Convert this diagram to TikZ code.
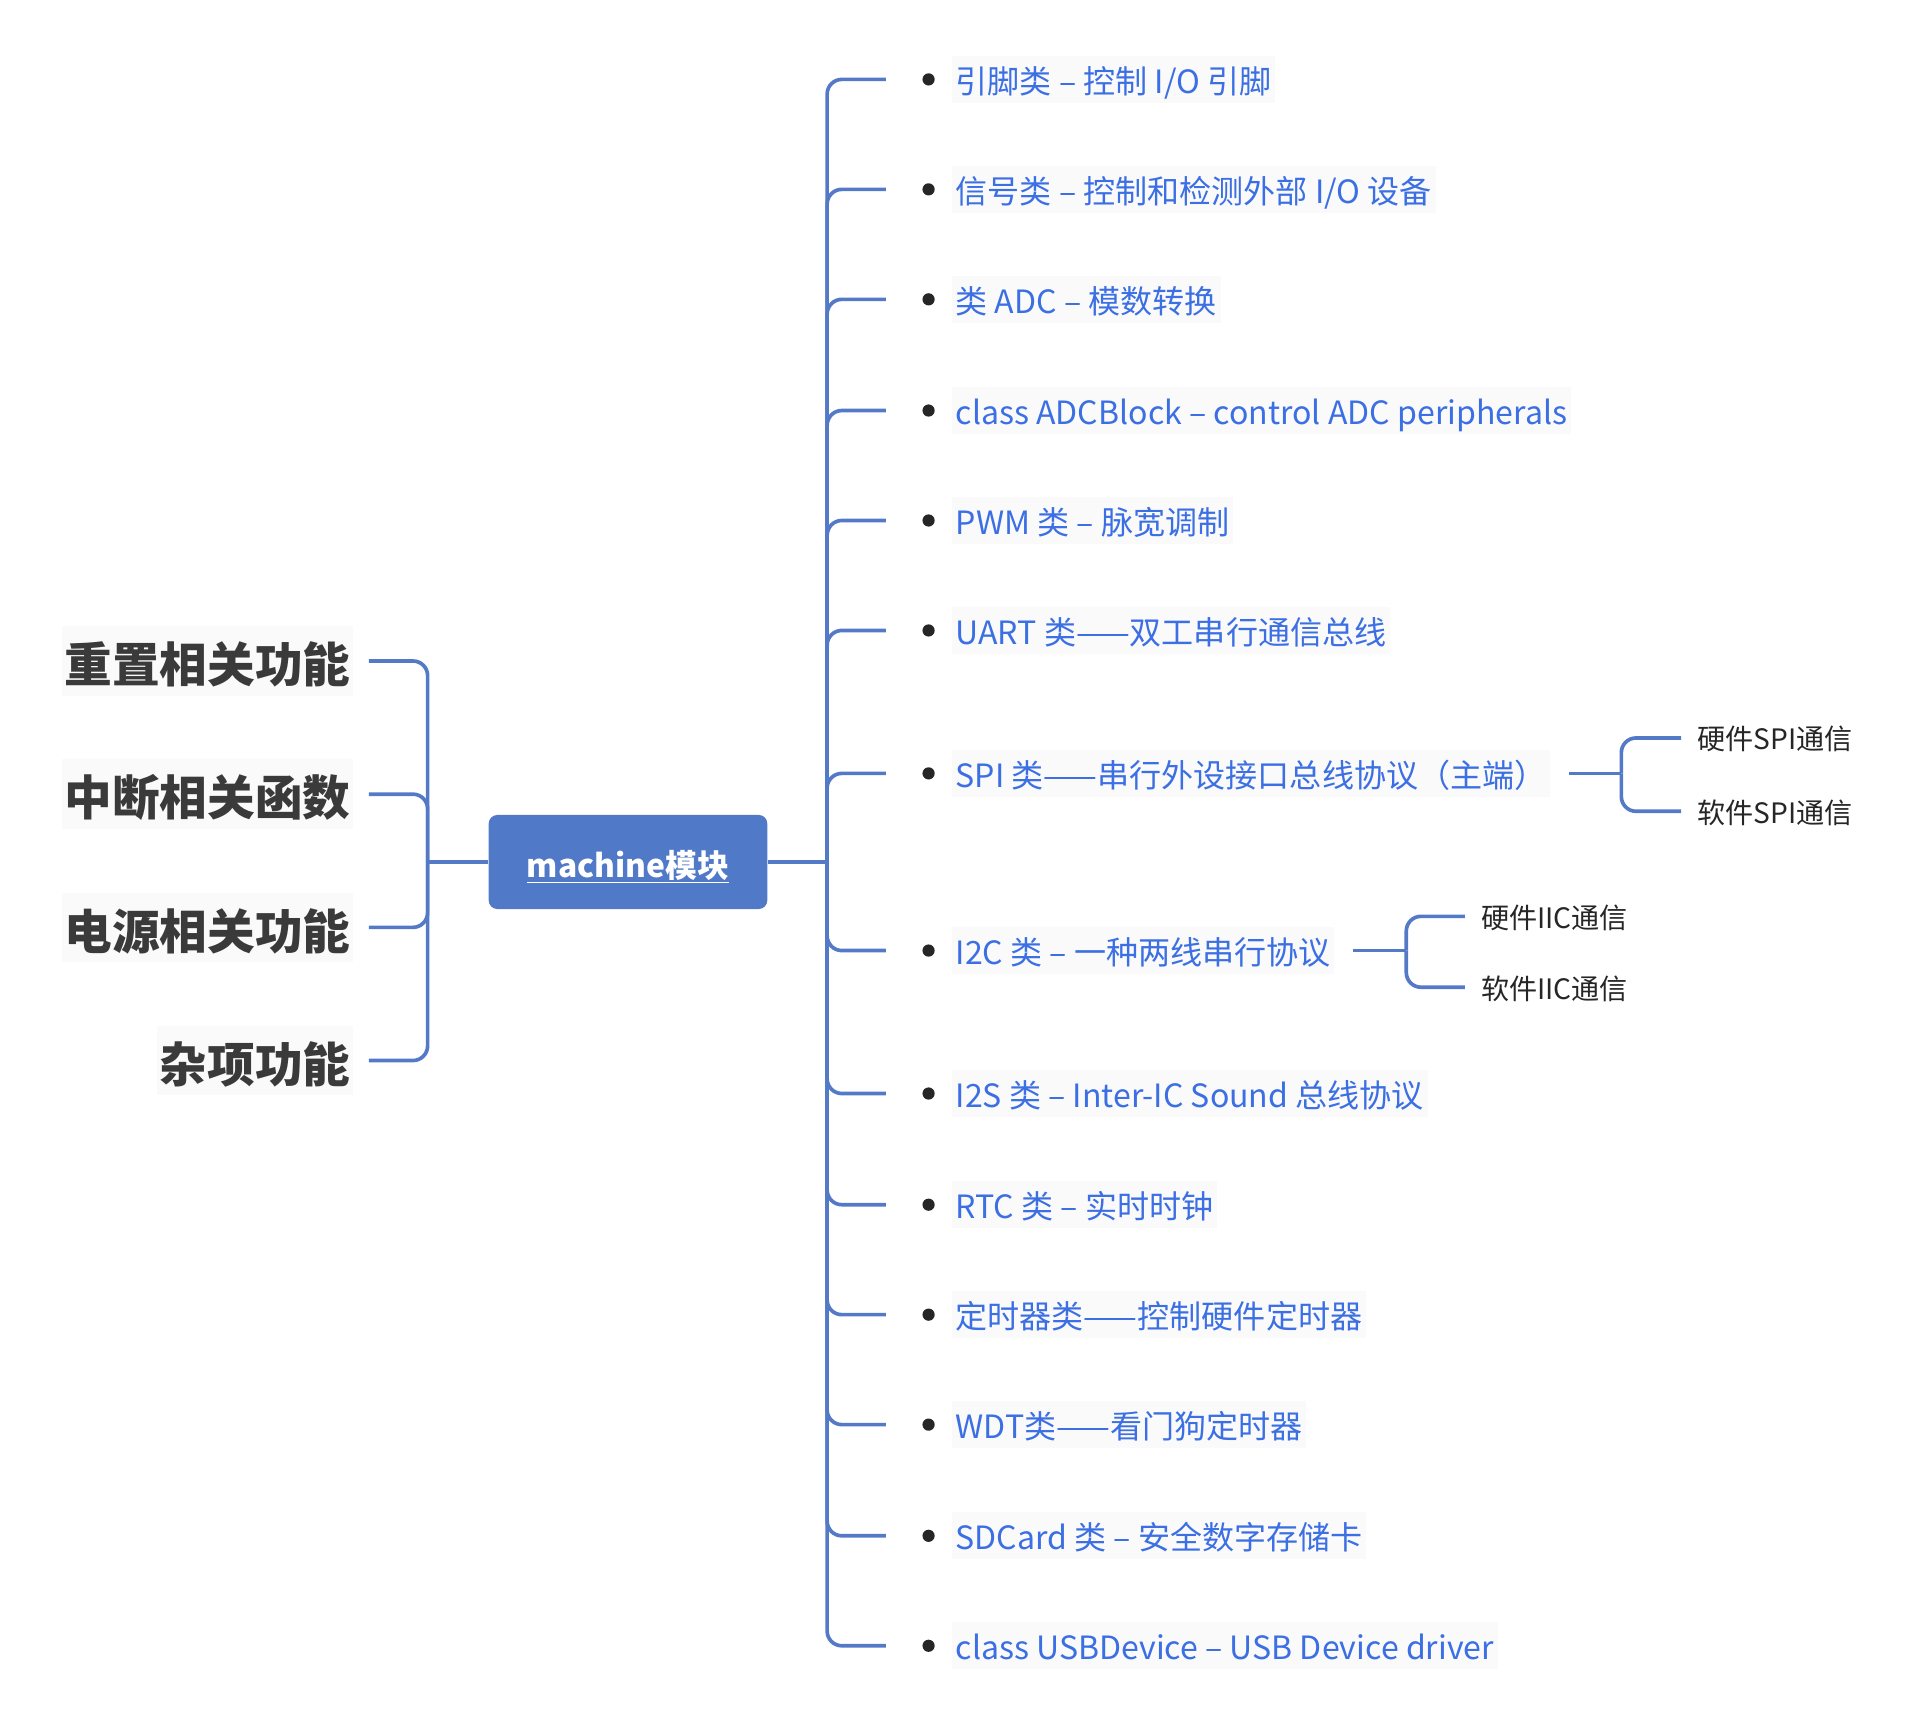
\documentclass[tikz,border=0pt]{standalone}
\usepackage{fontspec}
\setmainfont{Noto Sans CJK SC}
\usetikzlibrary{positioning}
\definecolor{brc}{HTML}{5479C6}
\definecolor{leafblue}{HTML}{3B6FE3}
\definecolor{rootblue}{HTML}{5079C8}
\definecolor{labgray}{HTML}{3A3A3A}
\definecolor{boxgray}{HTML}{FAFAFB}

\begin{document}
\begin{tikzpicture}[x=1pt,y=-1pt,
	branch/.style={draw=brc,line width=3pt,rounded corners=12pt},
	leaf/.style={anchor=west,fill=boxgray,text=leafblue,inner xsep=3pt,inner ysep=6pt,text height=24.5pt,text depth=1.75pt,font=\fontsize{26.25}{30}\selectfont},
	side/.style={anchor=east,fill=boxgray,text=labgray,inner xsep=2pt,inner ysep=9pt,text height=37.3pt,text depth=1.7pt,font=\fontsize{39}{44}\selectfont\bfseries},
	sub/.style={anchor=west,inner sep=0pt,text=black!85,text height=21.2pt,text depth=1.8pt,font=\fontsize{23}{26}\selectfont},
	dot/.style={circle,fill=black!85,inner sep=0pt,minimum size=10pt}]
	\useasboundingbox (0,0) rectangle (1569,1412.6);
	\node[fill=rootblue,rounded corners=7pt,minimum width=228pt,minimum height=77pt,text height=26pt,text depth=0pt,text=white,font=\fontsize{26}{30}\selectfont\bfseries] (root) at (514,705.5) {\underline{machine模块}};
	\coordinate (ljoin) at (350,705.5);
	\coordinate (rjoin) at (677,705.5);
	\draw[branch] (root.west) -- (ljoin);
	\draw[branch] (root.east) -- (rjoin);
	\foreach \y/\t [count=\i] in {541/{重置相关功能},650/{中断相关函数},759/{电源相关功能},868/{杂项功能}}{
		\node[side] (s\i) at (289,\y) {\t};
		\draw[branch] ([xshift=13pt]s\i.east) -| (ljoin);
	}
	\foreach \y/\t [count=\i] in {65/{引脚类 – 控制 I/O 引脚},155/{信号类 – 控制和检测外部 I/O 设备},245/{类 ADC – 模数转换},336/{class ADCBlock – control ADC peripherals},426/{PWM 类 – 脉宽调制},516/{UART 类——双工串行通信总线},633/{SPI 类——串行外设接口总线协议（主端）},778/{I2C 类 – 一种两线串行协议},895/{I2S 类 – Inter-IC Sound 总线协议},986/{RTC 类 – 实时时钟},1076/{定时器类——控制硬件定时器},1166/{WDT类——看门狗定时器},1257/{SDCard 类 – 安全数字存储卡},1347/{class USBDevice – USB Device driver}}{
		\coordinate (c\i) at (725,\y);
		\node[dot] (b\i) at (760,\y) {};
		\node[leaf] (l\i) at (779,\y) {\t};
		\draw[branch] (rjoin) |- (c\i);
	}
	\coordinate (spij) at (1327,633);
	\node[sub] (spi1) at (1389,604) {硬件SPI通信};
	\node[sub] (spi2) at (1389,664) {软件SPI通信};
	\draw[branch] ([xshift=15pt]l7.east) -- (spij);
	\draw[branch] (spij) |- ([xshift=-13pt]spi1.west);
	\draw[branch] (spij) |- ([xshift=-13pt]spi2.west);
	\coordinate (iicj) at (1151,778);
	\node[sub] (iic1) at (1212,750) {硬件IIC通信};
	\node[sub] (iic2) at (1212,808) {软件IIC通信};
	\draw[branch] ([xshift=15pt]l8.east) -- (iicj);
	\draw[branch] (iicj) |- ([xshift=-13pt]iic1.west);
	\draw[branch] (iicj) |- ([xshift=-13pt]iic2.west);
\end{tikzpicture}
\end{document}
